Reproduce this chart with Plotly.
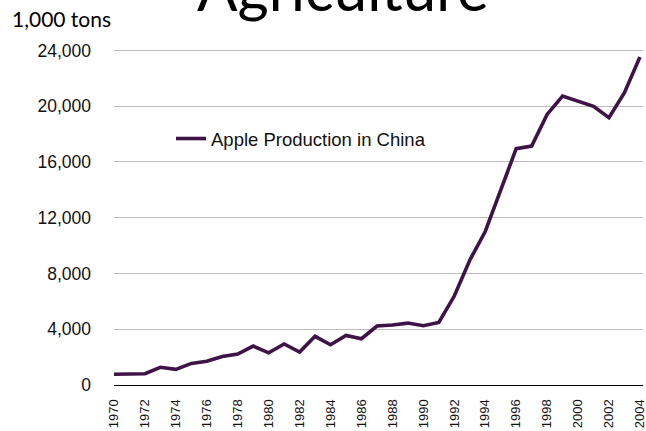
import plotly.graph_objects as go

years = list(range(1970, 2005))
production = [770, 810, 810, 1270, 1120, 1550, 1700, 2050, 2220, 2790,
              2310, 2940, 2360, 3490, 2890, 3560, 3320, 4230, 4300, 4440,
              4250, 4490, 6380, 8950, 11010, 13970, 16950, 17140, 19410, 20720,
              20370, 19990, 19170, 20970, 23520]
series_name = "Apple Production in China"
y_ticks = [0, 4000, 8000, 12000, 16000, 20000, 24000]
x_ticks = list(range(1970, 2005, 2))

W, H = 646, 431
L, R, T, B = 114, 3, 49, 46
PH = H - T - B
PW = W - L - R

def px_x(p):
    return (p - L) / PW

def px_y(p):
    return (H - B - p) / PH

fig = go.Figure()
fig.add_trace(go.Scatter(
    x=years, y=production, mode="lines", name=series_name,
    line=dict(color="#3f1248", width=3.6),
))

fig.update_layout(
    width=W, height=H,
    margin=dict(l=L, r=R, t=T, b=B, pad=0),
    paper_bgcolor="white", plot_bgcolor="white",
    showlegend=True,
    legend=dict(
        x=px_x(171), y=px_y(139), xanchor="left", yanchor="middle",
        font=dict(family="Liberation Sans, Arial, sans-serif", size=18.5, color="#111111"),
        bgcolor="rgba(0,0,0,0)",
    ),
    xaxis=dict(
        range=[1970, 2004.2],
        tickmode="array", tickvals=x_ticks, ticktext=[str(v) for v in x_ticks],
        tickangle=-90,
        tickfont=dict(family="Liberation Sans, Arial, sans-serif", size=13, color="#111111"),
        showgrid=False, zeroline=False,
        showline=True, linecolor="black", linewidth=1.3,
        ticks="", ticklabelstandoff=8,
        ticklabeloverflow="allow",
        automargin=False,
    ),
    yaxis=dict(
        range=[0, 24100],
        tickmode="array", tickvals=y_ticks,
        ticktext=[f"{v:,}" for v in y_ticks],
        tickfont=dict(family="Liberation Sans, Arial, sans-serif", size=17.5, color="#111111"),
        showgrid=True, gridcolor="#bdbdbd", gridwidth=1,
        zeroline=False, showline=False,
        ticks="", ticklabelstandoff=22,
        automargin=False,
    ),
    annotations=[
        dict(text="Agriculture", xref="paper", yref="paper",
             x=px_x(342.5), y=px_y(26), xanchor="center", yanchor="bottom",
             showarrow=False,
             font=dict(family="Lato, sans-serif", size=60, color="black")),
        dict(text="1,000 tons", xref="paper", yref="paper",
             x=px_x(10), y=px_y(33), xanchor="left", yanchor="bottom",
             showarrow=False,
             font=dict(family="Lato, sans-serif", size=21, color="black")),
    ],
)

fig.write_html("out.html")
